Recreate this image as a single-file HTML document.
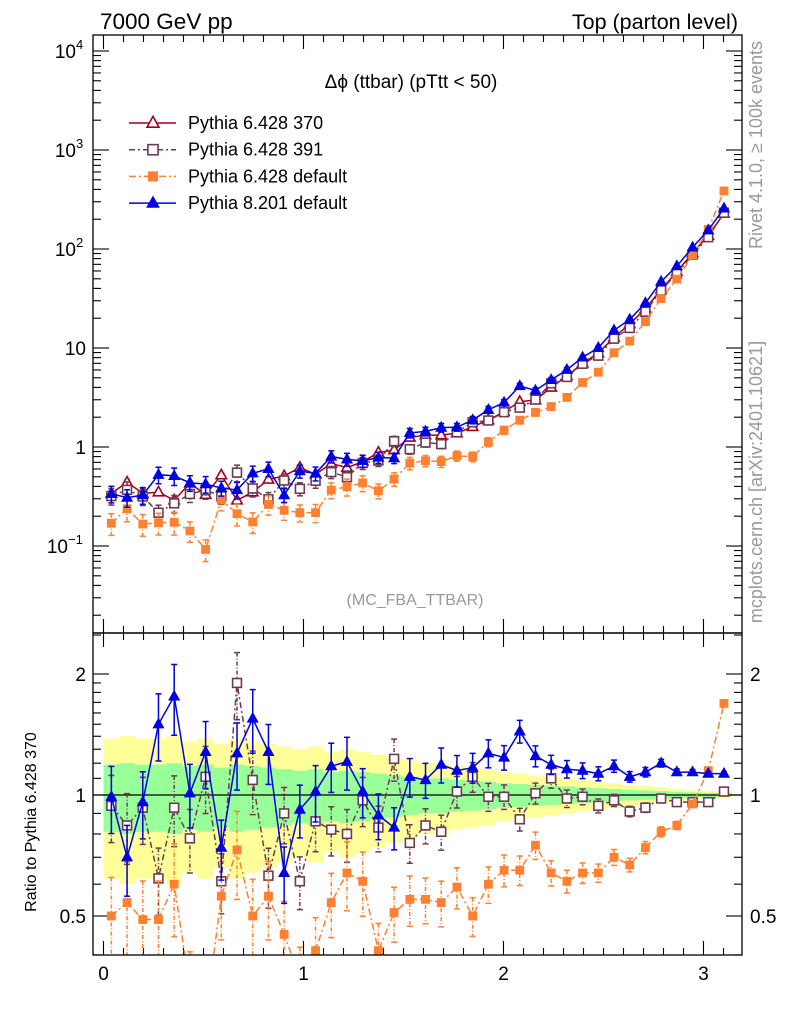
<!DOCTYPE html>
<html><head><meta charset="utf-8">
<style>
html,body{margin:0;padding:0;background:#fff;}
svg{display:block;font-family:"Liberation Sans",sans-serif;}
</style></head>
<body>
<svg id="chart" width="786" height="1024" viewBox="0 0 786 1024" xmlns="http://www.w3.org/2000/svg">
<defs>
<clipPath id="clipMain"><rect x="93" y="35" width="649" height="598"/></clipPath>
<clipPath id="clipRatio"><rect x="93" y="633" width="649" height="322"/></clipPath>
</defs>
<g id="bands" clip-path="url(#clipRatio)"></g>
<g id="ticks"></g>
<line x1="93" y1="795" x2="742" y2="795" stroke="#000" stroke-width="1.2"/>
<g id="mainSeries" clip-path="url(#clipMain)"></g>
<g id="ratioSeries" clip-path="url(#clipRatio)"></g>
<rect x="93" y="35" width="649" height="598" fill="none" stroke="#000" stroke-width="1.3"/>
<rect x="93" y="633" width="649" height="322" fill="none" stroke="#000" stroke-width="1.3"/>
<text x="100" y="29" font-size="22.5">7000 GeV pp</text>
<text x="738" y="29" font-size="21.5" text-anchor="end">Top (parton level)</text>
<text x="411" y="88" font-size="19" text-anchor="middle">Δϕ (ttbar) (pTtt &lt; 50)</text>
<text x="415" y="605" font-size="16" fill="#999" text-anchor="middle">(MC_FBA_TTBAR)</text>
<text transform="translate(762,145) rotate(-90)" font-size="18" fill="#999" text-anchor="middle">Rivet 4.1.0, ≥ 100k events</text>
<text transform="translate(762,482) rotate(-90)" font-size="18" fill="#999" text-anchor="middle">mcplots.cern.ch [arXiv:2401.10621]</text>
<text transform="translate(36,822) rotate(-90)" font-size="16" text-anchor="middle">Ratio to Pythia 6.428 370</text>
<g id="legend"></g>
</svg>
<script>
const NS="http://www.w3.org/2000/svg";
const nBins=40;
const refValues=[0.34,0.44,0.34,0.35,0.29,0.43,0.33,0.52,0.29,0.35,0.47,0.51,0.62,0.53,0.68,0.62,0.71,0.88,0.93,1.25,1.32,1.32,1.38,1.60,1.87,2.27,2.87,2.98,4.0,5.2,7.0,8.9,12.8,17.5,25,39,59,91,137,228];
const ratio391=[0.94,0.84,0.93,0.62,0.93,0.78,1.11,0.61,1.90,1.09,0.63,0.90,0.61,0.86,0.82,0.80,0.97,0.83,1.23,0.76,0.84,0.81,1.02,1.11,0.99,0.99,0.87,1.01,1.10,0.98,0.99,0.94,0.97,0.91,0.93,0.98,0.96,0.96,0.96,1.02];
const ratioDefault=[0.50,0.54,0.49,0.49,0.60,0.33,0.28,0.56,0.73,0.50,0.56,0.45,0.35,0.41,0.54,0.64,0.61,0.41,0.51,0.55,0.55,0.54,0.59,0.50,0.60,0.65,0.65,0.75,0.64,0.61,0.64,0.64,0.70,0.67,0.74,0.81,0.84,0.95,1.15,1.69];
const ratioP8=[0.99,0.70,0.96,1.50,1.76,1.01,1.28,0.74,1.27,1.55,1.28,0.64,0.92,1.02,1.18,1.21,1.02,0.89,0.83,1.11,1.09,1.19,1.15,1.17,1.27,1.24,1.44,1.25,1.19,1.16,1.15,1.13,1.18,1.11,1.14,1.20,1.14,1.14,1.13,1.13];
const relErr=[0.19,0.2,0.19,0.19,0.2,0.18,0.19,0.17,0.19,0.18,0.17,0.16,0.15,0.16,0.14,0.15,0.14,0.13,0.12,0.11,0.1,0.1,0.09,0.085,0.08,0.07,0.065,0.06,0.055,0.05,0.045,0.04,0.035,0.03,0.027,0.022,0.018,0.015,0.012,0.01];
const xMax=Math.PI;

function xp(x){return 103.5+200*x;}
function mainY(v){return 447-99*Math.log10(v);}
function ratioY(r){return 795-121*Math.log2(r);}
function binCenter(i){return (i+0.5)*xMax/nBins;}
function binEdge(i){return i*xMax/nBins;}

function mk(tag,attrs,parent){const e=document.createElementNS(NS,tag);for(const k in attrs)e.setAttribute(k,attrs[k]);parent.appendChild(e);return e;}

const bands=document.getElementById('bands');
let yTop="",yBot="",gTop="",gBot="";
for(let i=0;i<nBins;i++){
  const x0=xp(binEdge(i)),x1=xp(binEdge(i+1));
  const e=relErr[i];
  yTop+=` ${x0},${ratioY(1+2*e)} ${x1},${ratioY(1+2*e)}`;
  yBot=` ${x1},${ratioY(1-2*e)} ${x0},${ratioY(1-2*e)}`+yBot;
  gTop+=` ${x0},${ratioY(1+e)} ${x1},${ratioY(1+e)}`;
  gBot=` ${x1},${ratioY(1-e)} ${x0},${ratioY(1-e)}`+gBot;
}
const yb=mk('polygon',{points:yTop+yBot,fill:'#ffff99'},bands);


const gb=mk('polygon',{points:gTop+gBot,fill:'#99ff99'},bands);



const tk=document.getElementById('ticks');
function line(x1,y1,x2,y2,g){mk('line',{x1,y1,x2,y2,stroke:'#000','stroke-width':1.1},g);}
for(let k=0;k<=31;k++){
  const x=xp(k*0.1); if(x>742)break;
  const major=k%10===0; const L=major?14:7;
  line(x,35,x,35+L,tk); line(x,633,x,633-L,tk); line(x,633,x,633+L,tk); line(x,955,x,955-L,tk);
}
const xLabels=["0","1","2","3"];
xLabels.forEach((s,i)=>{const t=mk('text',{x:xp(i),y:980,'font-size':19,'text-anchor':'middle'},tk);t.textContent=s;
  
  });
for(let d=-2;d<=4;d++){
  for(let m=1;m<=9;m++){
    const v=m*Math.pow(10,d); const y=mainY(v); if(y<35||y>633)continue;
    const L=m===1?16:8; line(93,y,93+L,y,tk); line(742,y,742-L,y,tk);
  }
}
const mainLabels=[[4,"10","4"],[3,"10","3"],[2,"10","2"],[1,"10",""],[0,"1",""],[-1,"10","−1"]];
mainLabels.forEach(l=>{
  const y=mainY(Math.pow(10,l[0]))+7;
  const t=mk('text',{x:l[2]?(l[2].length>1?68:76):86,y:y,'font-size':19,'text-anchor':'end'},tk);
  t.textContent=l[1];
  
  
  if(l[2]){const s=mk('text',{x:l[2].length>1?68:76,y:y-9,'font-size':13},tk);s.textContent=l[2];}
});
const rTicks=[0.4,0.5,0.6,0.7,0.8,0.9,1,1.1,1.2,1.3,1.4,1.5,1.6,1.7,1.8,1.9,2,2.5];
rTicks.forEach(r=>{const y=ratioY(r);const major=(r===0.5||r===1||r===2);const L=major?16:8;
  line(93,y,93+L,y,tk); line(742,y,742-L,y,tk);});
[["2",2],["1",1],["0.5",0.5]].forEach(p=>{
  const y=ratioY(p[1])+7;
  const a=mk('text',{x:86,y:y,'font-size':19,'text-anchor':'end'},tk);a.textContent=p[0];
  
  
  const b=mk('text',{x:750,y:y,'font-size':19},tk);b.textContent=p[0];
  
  
});

function marker(g,type,x,y,col,scale){
  const s=(scale||1)*5.2;
  if(type==='tri'||type==='otri'){
    const open=type==='otri';
    return mk('polygon',{points:`${x},${y-s*1.1} ${x-s},${y+s*0.7} ${x+s},${y+s*0.7}`,fill:open?'#fff':col,stroke:col,'stroke-width':open?1.6:1},g);
  } else {
    const open=type==='osq';
    return mk('rect',{x:x-s*0.85,y:y-s*0.85,width:s*1.7,height:s*1.7,fill:open?'#fff':col,stroke:col,'stroke-width':open?1.6:0},g);
  }
}
const series=[
  {name:'pythia-6428-370',col:'#a0001e',type:'otri',dash:'',label:'Pythia 6.428 370',ratio:refValues.map(()=>1),errF:0.25},
  {name:'pythia-6428-391',col:'#6e3a52',type:'osq',dash:'6 3 2 3',label:'Pythia 6.428 391',ratio:ratio391,errF:1.0},
  {name:'pythia-6428-default',col:'#ff8030',type:'sq',dash:'7 3 2 3',label:'Pythia 6.428 default',ratio:ratioDefault,errF:1.3},
  {name:'pythia-8201-default',col:'#0000e0',type:'tri',dash:'',label:'Pythia 8.201 default',ratio:ratioP8,errF:1.0}
];
const mainG=document.getElementById('mainSeries');
const ratioG=document.getElementById('ratioSeries');
series.forEach(s=>{
  const gm=mk('g',{},mainG);
  
  
  const gr=mk('g',{},ratioG);
  
  
  let pm=[],pr=[];
  for(let i=0;i<nBins;i++){
    const x=xp(binCenter(i)); const v=refValues[i]*s.ratio[i];
    pm.push(`${x},${mainY(v)}`); pr.push(`${x},${ratioY(s.ratio[i])}`);
  }
  const la={fill:'none',stroke:s.col,'stroke-width':1.5};
  if(s.dash)la['stroke-dasharray']=s.dash;
  mk('polyline',Object.assign({points:pm.join(' ')},la),gm);
  if(s.name!=='pythia-6428-370')mk('polyline',Object.assign({points:pr.join(' ')},la),gr);
  for(let i=0;i<nBins;i++){
    const x=xp(binCenter(i)); const v=refValues[i]*s.ratio[i]; const e=relErr[i]*s.errF;
    const ea={stroke:s.col,'stroke-width':1.5}; if(s.dash)ea['stroke-dasharray']='4 2 1 2';
    [[gm,mainY(v*(1+e)),mainY(Math.max(v*(1-e),1e-3))],[gr,ratioY(s.ratio[i]*(1+e)),ratioY(Math.max(s.ratio[i]*(1-e),0.05))]].forEach(q=>{
      if(q[0]===gr&&s.name==='pythia-6428-370')return;
      mk('line',Object.assign({x1:x,x2:x,y1:q[1],y2:q[2]},ea),q[0]);
      mk('line',{x1:x-3,x2:x+3,y1:q[1],y2:q[1],stroke:s.col,'stroke-width':1.5},q[0]);
      mk('line',{x1:x-3,x2:x+3,y1:q[2],y2:q[2],stroke:s.col,'stroke-width':1.5},q[0]);
    });
    const m=marker(gm,s.type,x,mainY(v),s.col);
    
    
    if(s.name!=='pythia-6428-370'){
      const r=marker(gr,s.type,x,ratioY(s.ratio[i]),s.col);
      
      
    }
  }
});
const lg=document.getElementById('legend');
series.forEach((s,k)=>{
  const y=123+k*26.7;
  const g=mk('g',{},lg);
  
  
  const la={x1:129,x2:176,y1:y,y2:y,stroke:s.col,'stroke-width':1.5};
  if(s.dash)la['stroke-dasharray']=s.dash;
  mk('line',la,g);
  marker(g,s.type,153,y,s.col,1.15);
  const t=mk('text',{x:188,y:y+6,'font-size':18},g);t.textContent=s.label;
});
</script>
</body></html>
